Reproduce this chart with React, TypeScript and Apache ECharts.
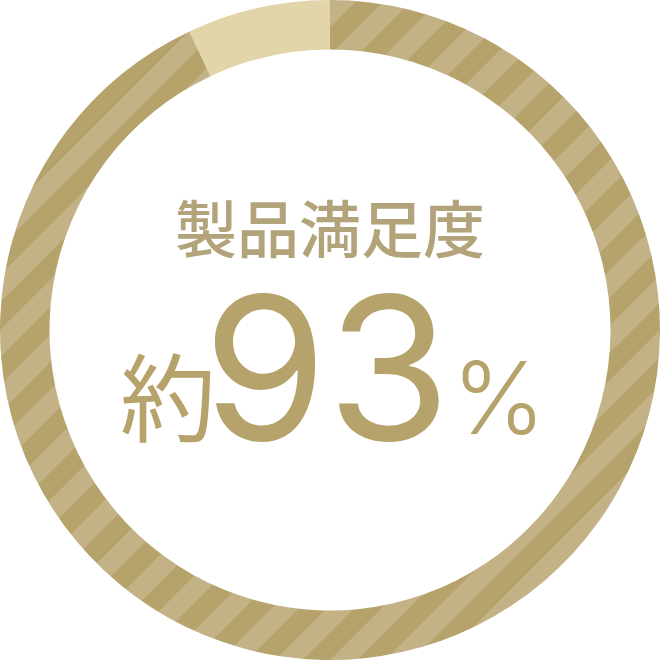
import React, { useEffect, useRef } from "react";
import * as echarts from "echarts";

const categories = ["満足", "その他"];
const values = [93, 7];
const titleText = "製品満足度";
const prefixText = "約";
const numberText = "93";
const unitText = "%";

const DARK = "#b5a36b";
const LIGHT_STRIPE = "#c2b285";
const REST = "#e2d5aa";
const TEXT_TITLE = "#b2a37a";
const TEXT_MAIN = "#b5a36b";
const TILE = 55;

function makeStripe(): HTMLCanvasElement {
  const s = TILE;
  const c = document.createElement("canvas");
  c.width = s;
  c.height = s;
  const ctx = c.getContext("2d")!;
  ctx.fillStyle = DARK;
  ctx.fillRect(0, 0, s, s);
  ctx.fillStyle = LIGHT_STRIPE;
  ctx.beginPath();
  ctx.moveTo(0, 0);
  ctx.lineTo(s / 2, 0);
  ctx.lineTo(0, s / 2);
  ctx.closePath();
  ctx.fill();
  ctx.beginPath();
  ctx.moveTo(s, 0);
  ctx.lineTo(s, s / 2);
  ctx.lineTo(s / 2, s);
  ctx.lineTo(0, s);
  ctx.closePath();
  ctx.fill();
  return c;
}

export default function App() {
  const ref = useRef<HTMLDivElement>(null);
  useEffect(() => {
    if (!ref.current) return;
    const chart = echarts.init(ref.current, undefined, { renderer: "svg" });
    const stripe = makeStripe();
    chart.setOption({
      animation: false,
      series: [
        {
          type: "pie",
          radius: ["85%", "100%"],
          center: ["50%", "50%"],
          startAngle: 90,
          clockwise: true,
          silent: true,
          label: { show: false },
          labelLine: { show: false },
          emphasis: { disabled: true },
          data: categories.map((name, i) => ({
            name,
            value: values[i],
            itemStyle: {
              color:
                i === 0
                  ? { image: stripe, repeat: "repeat", imageWidth: TILE, imageHeight: TILE }
                  : REST,
              borderWidth: 0,
            },
          })),
        },
      ],
      graphic: [
        {
          type: "text",
          left: "center",
          top: 195,
          style: {
            text: titleText,
            fill: TEXT_TITLE,
            font: '500 62px "Noto Sans CJK JP"',
          },
        },
        {
          type: "text",
          x: 120,
          y: 344,
          style: {
            text: prefixText,
            fill: TEXT_MAIN,
            font: '400 96px "Noto Sans CJK JP"',
          },
        },
        {
          type: "text",
          x: 203,
          y: 267,
          style: {
            text: numberText,
            fill: TEXT_MAIN,
            font: '400 200px "Inter"',
          },
        },
        {
          type: "text",
          x: 452,
          y: 347,
          style: {
            text: unitText,
            fill: TEXT_MAIN,
            font: '300 100px "Inter"',
          },
        },
      ],
    });
    return () => chart.dispose();
  }, []);
  return (
    <div
      ref={ref}
      style={{ position: "fixed", left: 0, top: 0, width: 660, height: 660 }}
    />
  );
}
